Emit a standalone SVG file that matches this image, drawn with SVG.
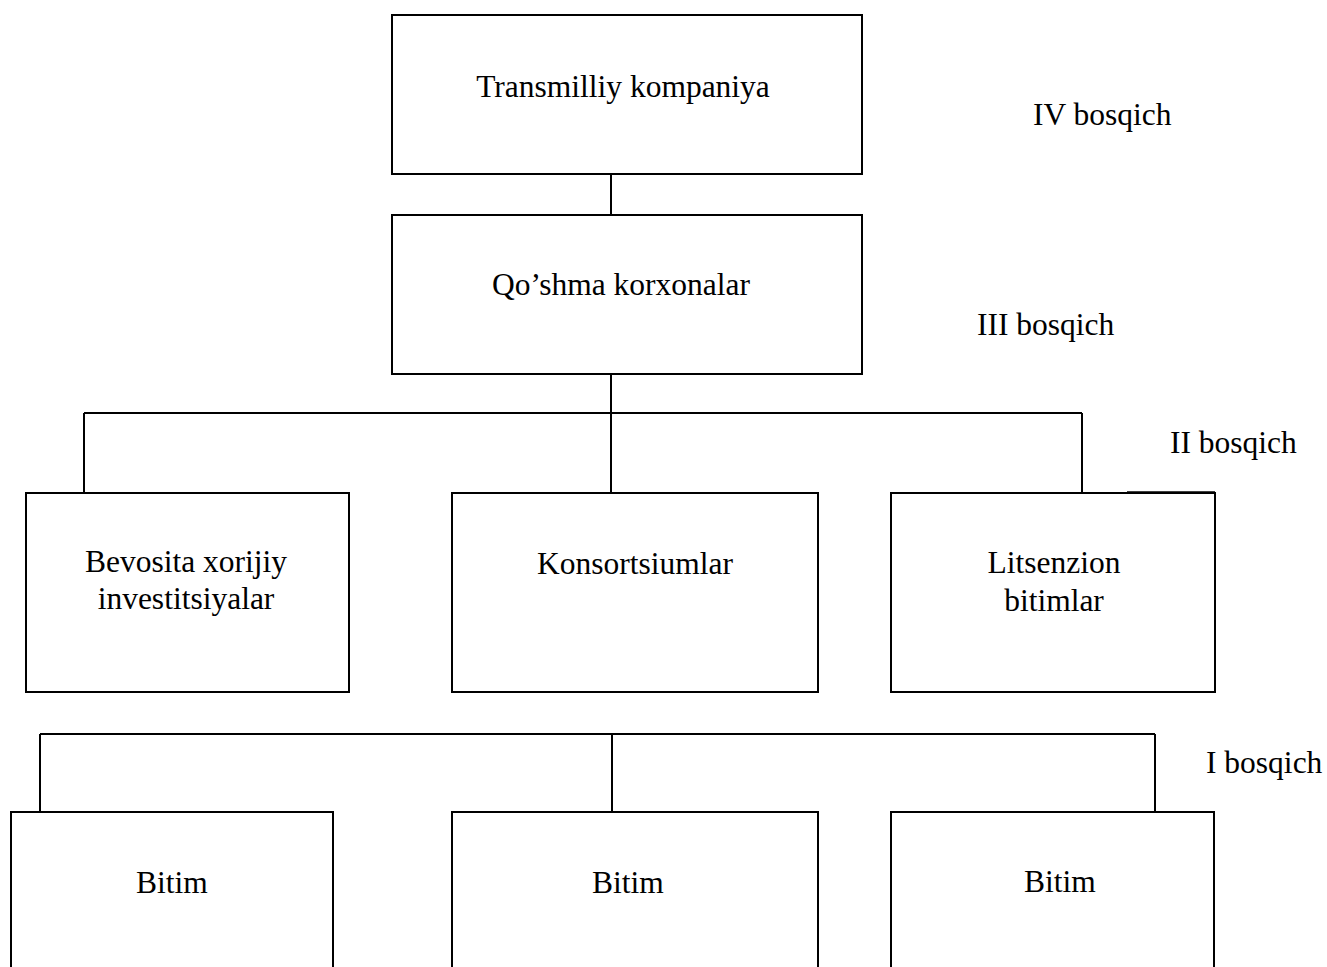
<svg xmlns="http://www.w3.org/2000/svg" width="1327" height="967" viewBox="0 0 1327 967">
<style>
.box{fill:#fff;stroke:#000;stroke-width:2}
.ln{fill:none;stroke:#000;stroke-width:2}
text{font-family:"Liberation Serif","Times New Roman",serif;font-size:31.5px;fill:#000}
.c{text-anchor:middle}
</style>
<rect width="1327" height="967" fill="#fff"/>
<g id="connectors">
<line class="ln" x1="611" y1="174" x2="611" y2="215"/>
<polyline class="ln" points="611,374 611,413"/>
<line class="ln" x1="84" y1="413" x2="1082" y2="413"/>
<line class="ln" x1="84" y1="413" x2="84" y2="493"/>
<line class="ln" x1="611" y1="413" x2="611" y2="493"/>
<line class="ln" x1="1082" y1="413" x2="1082" y2="493"/>
<line class="ln" x1="40" y1="734" x2="1155" y2="734"/>
<line class="ln" x1="40" y1="734" x2="40" y2="812"/>
<line class="ln" x1="612" y1="734" x2="612" y2="812"/>
<line class="ln" x1="1155" y1="734" x2="1155" y2="812"/>
<line x1="1127" y1="492.5" x2="1215" y2="492.5" stroke="#000" stroke-width="2.5"/>
</g>
<g id="n-transmilliy"><rect class="box" x="392" y="15" width="470" height="159"/><text class="c" x="623" y="97">Transmilliy kompaniya</text></g>
<g id="n-qoshma"><rect class="box" x="392" y="215" width="470" height="159"/><text class="c" x="621" y="295">Qo’shma korxonalar</text></g>
<g id="n-bevosita"><rect class="box" x="26" y="493" width="323" height="199"/><text class="c" x="186" y="572">Bevosita xorijiy</text><text class="c" x="186" y="609">investitsiyalar</text></g>
<g id="n-konsortsium"><rect class="box" x="452" y="493" width="366" height="199"/><text class="c" x="635" y="574">Konsortsiumlar</text></g>
<g id="n-litsenzion"><rect class="box" x="891" y="493" width="324" height="199"/><text class="c" x="1054" y="573">Litsenzion</text><text class="c" x="1054" y="611">bitimlar</text></g>
<g id="n-bitim1"><rect class="box" x="11" y="812" width="322" height="180"/><text class="c" x="172" y="893">Bitim</text></g>
<g id="n-bitim2"><rect class="box" x="452" y="812" width="366" height="180"/><text class="c" x="628" y="893">Bitim</text></g>
<g id="n-bitim3"><rect class="box" x="891" y="812" width="323" height="180"/><text class="c" x="1060" y="892">Bitim</text></g>
<g id="labels">
<text x="1033" y="125">IV bosqich</text>
<text x="977" y="335">III bosqich</text>
<text x="1170" y="453">II bosqich</text>
<text x="1206" y="773">I bosqich</text>
</g>
</svg>
